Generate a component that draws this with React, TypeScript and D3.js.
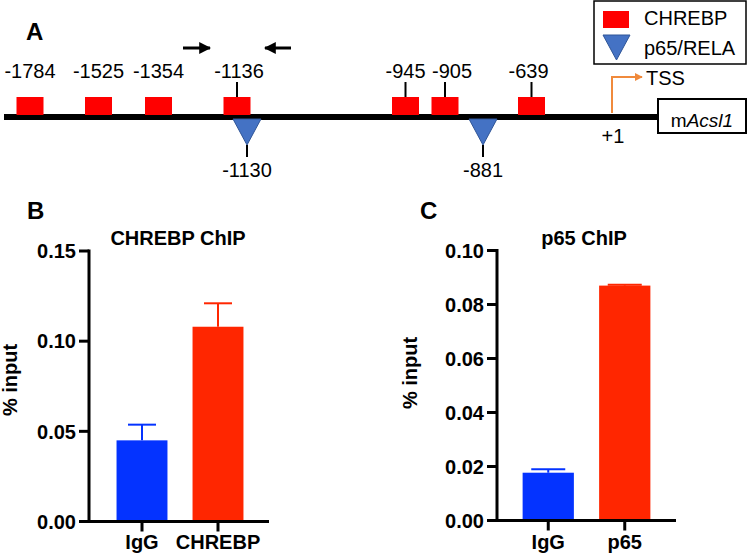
import React from "react";
import * as d3 from "d3";

// ---------- Panel A data ----------
const chrebpSites = [-1784, -1525, -1354, -1136, -945, -905, -639];
const chrebpWithStem = [-1136, -945, -905, -639];
const p65Sites = [-1130, -881];
const tssSite = 1;
// schematic (not-to-scale) ordering of elements along the promoter
const schematicDomain = [-1784, -1525, -1354, -1136, -1130, -945, -905, -881, -639, 1];
const schematicStops = [30, 98.5, 158.5, 237, 247, 405.5, 445, 483, 531.5, 612];

// ---------- Panel B data ----------
const bCategories = ["IgG", "CHREBP"];
const bMeans = [0.045, 0.108];
const bSem = [0.0087, 0.013];
const bTicks = [0, 0.05, 0.1, 0.15];

// ---------- Panel C data ----------
const cCategories = ["IgG", "p65"];
const cMeans = [0.0177, 0.087];
const cSem = [0.0013, 0.0003];
const cTicks = [0, 0.02, 0.04, 0.06, 0.08, 0.1];

const barColors = ["#0433FF", "#FF2600"];
const FONT = "'Liberation Sans', Arial, Helvetica, sans-serif";

type BarProps = {
  cats: string[];
  means: number[];
  sem: number[];
  ticks: number[];
  yMax: number;
  x0: number;
  x1: number;
  y0: number;
  y1: number;
  bandRange: [number, number];
  title: string;
  titleX: number;
  letter: string;
  letterX: number;
  yTitleX: number;
  yTitleY: number;
  capW: number;
};

function BarPanel(p: BarProps) {
  const y = d3.scaleLinear().domain([0, p.yMax]).range([p.y0, p.y1]);
  const x = d3
    .scaleBand<string>()
    .domain(p.cats)
    .range(p.bandRange)
    .paddingInner(0.33)
    .paddingOuter(0.165);
  const bw = x.bandwidth();
  return (
    <g fontFamily={FONT}>
      <text x={p.letterX} y={219} fontSize={24} fontWeight="bold">
        {p.letter}
      </text>
      <text x={p.titleX} y={245} fontSize={20} fontWeight="bold" textAnchor="middle">
        {p.title}
      </text>
      {p.cats.map((c, i) => {
        const cx = (x(c) as number) + bw / 2;
        const top = y(p.means[i]);
        const et = y(p.means[i] + p.sem[i]);
        return (
          <g key={c}>
            <rect x={x(c)} y={top} width={bw} height={p.y0 - top} fill={barColors[i]} />
            <line x1={cx} x2={cx} y1={top} y2={et} stroke={barColors[i]} strokeWidth={2} />
            <line x1={cx - p.capW / 2} x2={cx + p.capW / 2} y1={et} y2={et} stroke={barColors[i]} strokeWidth={2} />
          </g>
        );
      })}
      {/* y axis */}
      <line x1={p.x0} x2={p.x0} y1={y(p.yMax) - 1.5} y2={p.y0 + 1.5} stroke="#000" strokeWidth={3} />
      {p.ticks.map((t) => (
        <g key={t}>
          <line x1={p.x0 - 10} x2={p.x0} y1={y(t)} y2={y(t)} stroke="#000" strokeWidth={3} />
          <text x={p.x0 - 13} y={y(t)} dy="0.36em" fontSize={20} fontWeight="bold" textAnchor="end">
            {d3.format(".2f")(t)}
          </text>
        </g>
      ))}
      {/* x axis */}
      <line x1={p.x0} x2={p.x1} y1={p.y0} y2={p.y0} stroke="#000" strokeWidth={3} />
      {p.cats.map((c) => {
        const cx = (x(c) as number) + bw / 2;
        return (
          <g key={c}>
            <line x1={cx} x2={cx} y1={p.y0} y2={p.y0 + 10} stroke="#000" strokeWidth={3} />
            <text x={cx} y={549} fontSize={20} fontWeight="bold" textAnchor="middle">
              {c}
            </text>
          </g>
        );
      })}
      <text
        transform={`translate(${p.yTitleX},${p.yTitleY}) rotate(-90)`}
        fontSize={20}
        fontWeight="bold"
        textAnchor="middle"
      >
        % input
      </text>
    </g>
  );
}

function PanelA() {
  const sx = d3.scaleLinear().domain(schematicDomain).range(schematicStops);
  const lineY = 117;
  const sqW = 27;
  const sqH = 18;
  const triW = 28;
  const triH = 26;
  const blue = "#4472C4";
  const blueStroke = "#2F5597";
  const labelNudge: Record<number, number> = { [-905]: 7, [-639]: -3, [-1136]: 2 };
  const tri = (cx: number, top: number, w: number, h: number) =>
    `M${cx - w / 2},${top}L${cx + w / 2},${top}L${cx},${top + h}Z`;
  const tssX = sx(tssSite);
  return (
    <g fontFamily={FONT}>
      <text x={26} y={40} fontSize={24} fontWeight="bold">
        A
      </text>
      <defs>
        <marker id="ah" viewBox="0 0 10 10" refX="9" refY="5" markerWidth="4" markerHeight="4" orient="auto-start-reverse">
          <path d="M0,0L10,5L0,10Z" fill="#000" />
        </marker>
        <marker id="ahO" viewBox="0 0 10 10" refX="9" refY="5" markerWidth="4" markerHeight="4" orient="auto">
          <path d="M0,0L10,5L0,10Z" fill="#F08A3C" />
        </marker>
      </defs>
      {/* primer arrows */}
      <line x1={183} x2={210} y1={48} y2={48} stroke="#000" strokeWidth={3} markerEnd="url(#ah)" />
      <line x1={291} x2={265} y1={48} y2={48} stroke="#000" strokeWidth={3} markerEnd="url(#ah)" />
      {/* promoter line */}
      <line x1={4} x2={658} y1={lineY} y2={lineY} stroke="#000" strokeWidth={6} />
      {/* CHREBP sites */}
      {chrebpSites.map((s) => {
        const cx = sx(s);
        const stem = chrebpWithStem.includes(s);
        return (
          <g key={s}>
            {stem && <line x1={cx} x2={cx} y1={82} y2={97} stroke="#000" strokeWidth={2} />}
            <rect x={cx - sqW / 2} y={lineY - 2 - sqH} width={sqW} height={sqH} fill="#FF0000" />
            <text x={cx + (labelNudge[s] || 0)} y={78} fontSize={20} textAnchor="middle">
              {String(s)}
            </text>
          </g>
        );
      })}
      {/* p65 sites */}
      {p65Sites.map((s) => {
        const cx = sx(s);
        return (
          <g key={s}>
            <path d={tri(cx, lineY + 2, triW, triH)} fill={blue} stroke={blueStroke} strokeWidth={1} />
            <line x1={cx} x2={cx} y1={lineY + 2 + triH} y2={157} stroke="#000" strokeWidth={2} />
            <text x={cx} y={177} fontSize={20} textAnchor="middle">
              {String(s)}
            </text>
          </g>
        );
      })}
      {/* TSS */}
      <path
        d={`M${tssX},${lineY - 4}V77H${tssX + 30}`}
        fill="none"
        stroke="#F08A3C"
        strokeWidth={2}
        markerEnd="url(#ahO)"
      />
      <text x={tssX + 34} y={85} fontSize={20}>
        TSS
      </text>
      <text x={tssX + 1} y={143} fontSize={20} textAnchor="middle">
        +{tssSite}
      </text>
      {/* gene box */}
      <rect x={658} y={99} width={88} height={34} fill="#fff" stroke="#000" strokeWidth={2} />
      <text x={702} y={127} fontSize={19} textAnchor="middle">
        m<tspan fontStyle="italic">Acsl1</tspan>
      </text>
      {/* legend */}
      <rect x={594} y={1} width={152} height={63} fill="#fff" stroke="#000" strokeWidth={1.5} />
      <rect x={603} y={11} width={26} height={17} fill="#FF0000" />
      <path d={tri(616.5, 35, 27, 25)} fill={blue} stroke={blueStroke} strokeWidth={1} />
      <text x={644} y={25} fontSize={20}>
        CHREBP
      </text>
      <text x={644} y={55} fontSize={20}>
        p65/RELA
      </text>
    </g>
  );
}

export default function App() {
  return (
    <svg
      width={750}
      height={558}
      viewBox="0 0 750 558"
      style={{ position: "absolute", left: 0, top: 0, display: "block", background: "#fff" }}
    >
      <rect width={750} height={558} fill="#fff" />
      <PanelA />
      <BarPanel
        cats={bCategories}
        means={bMeans}
        sem={bSem}
        ticks={bTicks}
        yMax={0.15}
        x0={89}
        x1={269}
        y0={521.5}
        y1={251}
        bandRange={[104, 256]}
        title="CHREBP ChIP"
        titleX={178}
        letter="B"
        letterX={27}
        yTitleX={17}
        yTitleY={380}
        capW={28}
      />
      <BarPanel
        cats={cCategories}
        means={cMeans}
        sem={cSem}
        ticks={cTicks}
        yMax={0.1}
        x0={497}
        x1={676}
        y0={520.5}
        y1={250.5}
        bandRange={[510, 663]}
        title="p65 ChIP"
        titleX={584}
        letter="C"
        letterX={420}
        yTitleX={417}
        yTitleY={373}
        capW={34}
      />
    </svg>
  );
}
